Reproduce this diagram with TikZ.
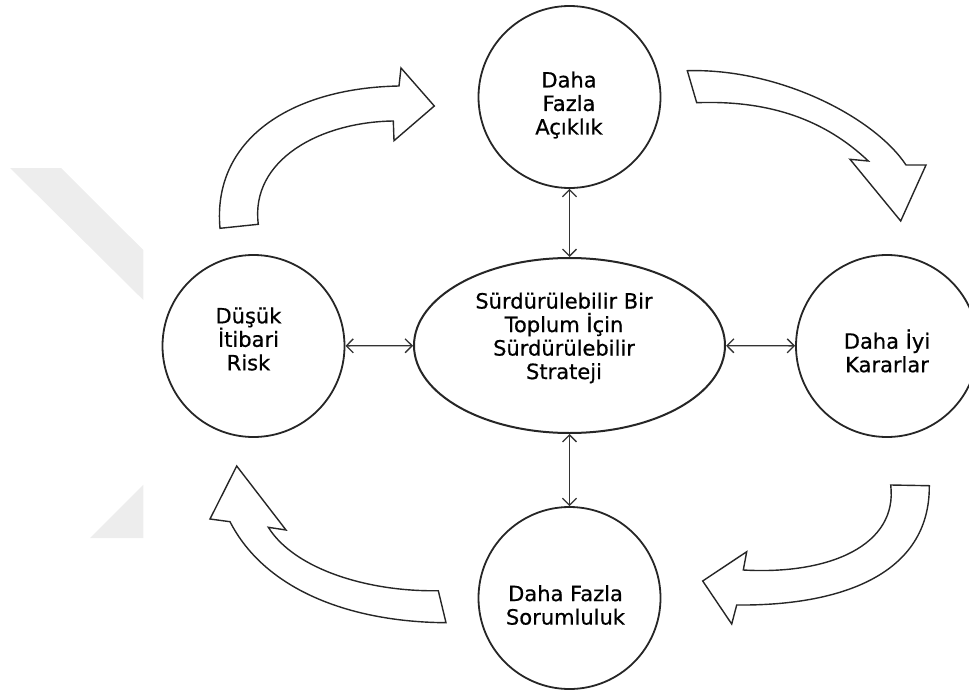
\documentclass[tikz,border=0pt]{standalone}
\usepackage{fontspec}
\setmainfont{DejaVu Sans}
\newfontfamily\lblfont{DejaVu Sans}[FakeBold=0.6]
\usetikzlibrary{shapes.geometric,arrows.meta}
\begin{document}
\begin{tikzpicture}[x=1pt,y=-1pt,
  bub/.style={circle,draw=black!85,line width=1.8pt,minimum size=182pt,inner sep=0pt},
  lbl/.style={align=center,font=\lblfont\fontsize{21}{23.5}\selectfont,text=black,inner sep=0pt},
  dbl/.style={{Straight Barb[length=7pt,width=14pt]}-{Straight Barb[length=7pt,width=14pt]},line width=1.3pt,draw=black!80},
  blk/.style={draw=black!85,line width=1.4pt,fill=white,line join=miter}]
\useasboundingbox (0,0) rectangle (969,693);
\clip (0,0) rectangle (969,693);
% watermark
\fill[black!7] (10,168) -- (61,168) -- (143.3,250) -- (143.3,300) -- cycle;
\fill[black!7] (90,538) -- (143.3,538) -- (143.3,484.7) -- cycle;
% block arrows
\draw[blk] (220,228.3) .. controls (212,140) and (290,88) .. (399,86) -- (401,68) -- (434.3,106) -- (394,140.7) -- (393.3,121) .. controls (320,122) and (250,160) .. (258.3,224.3) -- cycle;
\draw[blk] (687.3,70.7) .. controls (780,68) and (875,118) .. (906,165) -- (926,165) -- (900.7,221) -- (850,159.3) -- (868.3,161) .. controls (825,120) and (770,100) .. (696.7,102.7) -- cycle;
\draw[blk] (929.3,485.7) .. controls (930,575) and (840,606) .. (736.7,605) -- (731.7,624) -- (702.7,581) -- (746.7,551.7) -- (743.3,570) .. controls (830,575) and (898,545) .. (890.7,485) -- cycle;
\draw[blk] (446,622.7) .. controls (350,622) and (265,590) .. (230,521.7) -- (210,519) -- (236.7,466) -- (286,530) -- (268.3,527.3) .. controls (295,570) and (370,592) .. (438.3,590.7) -- cycle;
% nodes
\node[bub] (top) at (569.5,97) {};
\node[bub] (right) at (887,346) {};
\node[bub] (left) at (253.5,346) {};
\node[bub] (bottom) at (569.5,598) {};
\node[ellipse,draw=black!85,line width=2pt,minimum width=311pt,minimum height=175pt,inner sep=0pt] (mid) at (569.5,345.5) {};
% texts
\node[lbl] (tTop) at (569,105) {Daha\\Fazla\\Açıklık};
\node[lbl] (tRight) at (887,351) {Daha İyi\\Kararlar};
\node[lbl] (tLeft) at (248.5,339) {Düşük\\İtibari\\Risk};
\node[lbl] (tBottom) at (565.5,605) {Daha Fazla\\Sorumluluk};
\node[lbl] (tMid) at (564,338) {Sürdürülebilir Bir\\Toplum İçin\\Sürdürülebilir\\Strateji};
% connectors
\draw[dbl] (top) -- (mid);
\draw[dbl] (mid) -- (bottom);
\draw[dbl] (left) -- (mid);
\draw[dbl] (mid) -- (right);
\end{tikzpicture}
\end{document}
